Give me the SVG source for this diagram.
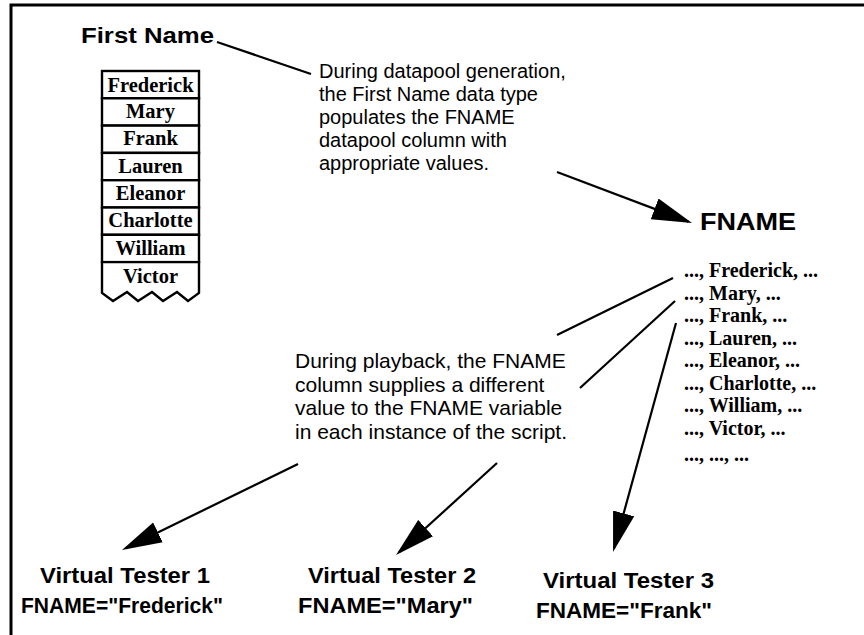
<svg xmlns="http://www.w3.org/2000/svg" width="864" height="635" viewBox="0 0 864 635">
<style>
.sans{font-family:"Liberation Sans",Arial,sans-serif;fill:#000}
.b{font-weight:bold}
.serif{font-family:"Liberation Serif","Times New Roman",serif;font-weight:bold;fill:#000}
.cell{fill:#fff;stroke:#000;stroke-width:2.4}
.ln{stroke:#000;stroke-width:2.2;fill:none}
.arr{stroke:#000;stroke-width:2.2;fill:none;marker-end:url(#ah)}
</style>
<defs>
<marker id="ah" markerUnits="userSpaceOnUse" markerWidth="41" markerHeight="23" viewBox="0 0 41 23" refX="36" refY="11.5" orient="auto">
<path d="M0,0.5 L40,11.5 L0,22.5 Z" fill="#000"/>
</marker>
</defs>
<rect width="864" height="635" fill="#fff"/>
<path d="M11,635 L11,5 L864,5" fill="none" stroke="#000" stroke-width="3"/>

<g id="first-name">
<text class="sans b" x="81" y="43" font-size="22" textLength="133" lengthAdjust="spacingAndGlyphs">First Name</text>
</g>

<g id="name-table">
<rect class="cell" x="102" y="71" width="97" height="27.3"/>
<rect class="cell" x="102" y="98.3" width="97" height="27.3"/>
<rect class="cell" x="102" y="125.6" width="97" height="27.3"/>
<rect class="cell" x="102" y="152.9" width="97" height="27.3"/>
<rect class="cell" x="102" y="180.2" width="97" height="27.3"/>
<rect class="cell" x="102" y="207.5" width="97" height="27.3"/>
<rect class="cell" x="102" y="234.8" width="97" height="27.3"/>
<path class="cell" d="M102,262.1 L102,293 L113,301 L127,292 L138,301 L152,292 L163,301 L177,292 L188,301 L199,293 L199,262.1 Z"/>
<g class="serif" font-size="20.5" text-anchor="middle">
<text x="150.5" y="91.7">Frederick</text>
<text x="150.5" y="118.3">Mary</text>
<text x="150.5" y="145">Frank</text>
<text x="150.5" y="172.7">Lauren</text>
<text x="150.5" y="200">Eleanor</text>
<text x="150.5" y="227.3">Charlotte</text>
<text x="150.5" y="255">William</text>
<text x="150.5" y="282.7">Victor</text>
</g>
</g>

<g id="generation-note">
<g class="sans" font-size="20">
<text x="319" y="78">During datapool generation,</text>
<text x="319" y="101">the First Name data type</text>
<text x="319" y="124">populates the FNAME</text>
<text x="319" y="147">datapool column with</text>
<text x="319" y="170">appropriate values.</text>
</g>
</g>

<g id="fname-column">
<text class="sans b" x="700" y="230" font-size="24" textLength="96" lengthAdjust="spacingAndGlyphs">FNAME</text>
<g class="serif" font-size="20">
<text x="684" y="277">..., Frederick, ...</text>
<text x="684" y="299.5">..., Mary, ...</text>
<text x="684" y="322">..., Frank, ...</text>
<text x="684" y="344.5">..., Lauren, ...</text>
<text x="684" y="367">..., Eleanor, ...</text>
<text x="684" y="389.5">..., Charlotte, ...</text>
<text x="684" y="412">..., William, ...</text>
<text x="684" y="434.5">..., Victor, ...</text>
<text x="684" y="461">..., ..., ...</text>
</g>
</g>

<g id="playback-note">
<g class="sans" font-size="21">
<text x="295" y="368">During playback, the FNAME</text>
<text x="295" y="391.5">column supplies a different</text>
<text x="295" y="415">value to the FNAME variable</text>
<text x="295" y="438.5">in each instance of the script.</text>
</g>
</g>

<g id="virtual-tester-1">
<text class="sans b" x="40" y="583" font-size="22" textLength="170" lengthAdjust="spacingAndGlyphs">Virtual Tester 1</text>
<text class="sans b" x="21" y="613" font-size="22" textLength="202" lengthAdjust="spacingAndGlyphs">FNAME="Frederick"</text>
</g>
<g id="virtual-tester-2">
<text class="sans b" x="308" y="583" font-size="22" textLength="168" lengthAdjust="spacingAndGlyphs">Virtual Tester 2</text>
<text class="sans b" x="298" y="613" font-size="22" textLength="175" lengthAdjust="spacingAndGlyphs">FNAME="Mary"</text>
</g>
<g id="virtual-tester-3">
<text class="sans b" x="543" y="588" font-size="22" textLength="171" lengthAdjust="spacingAndGlyphs">Virtual Tester 3</text>
<text class="sans b" x="536" y="618" font-size="22" textLength="176" lengthAdjust="spacingAndGlyphs">FNAME="Frank"</text>
</g>

<g id="connectors">
<line class="ln" x1="217" y1="42" x2="311" y2="74"/>
<line class="arr" x1="557" y1="172" x2="688.3" y2="221.6"/>
<line class="ln" x1="673" y1="278" x2="557" y2="335"/>
<line class="ln" x1="675" y1="301" x2="580" y2="388"/>
<line class="arr" x1="298" y1="464" x2="125.6" y2="548.2"/>
<line class="arr" x1="497" y1="463" x2="399" y2="552.3"/>
<line class="arr" x1="676" y1="323" x2="614.1" y2="548.1"/>
</g>
</svg>
